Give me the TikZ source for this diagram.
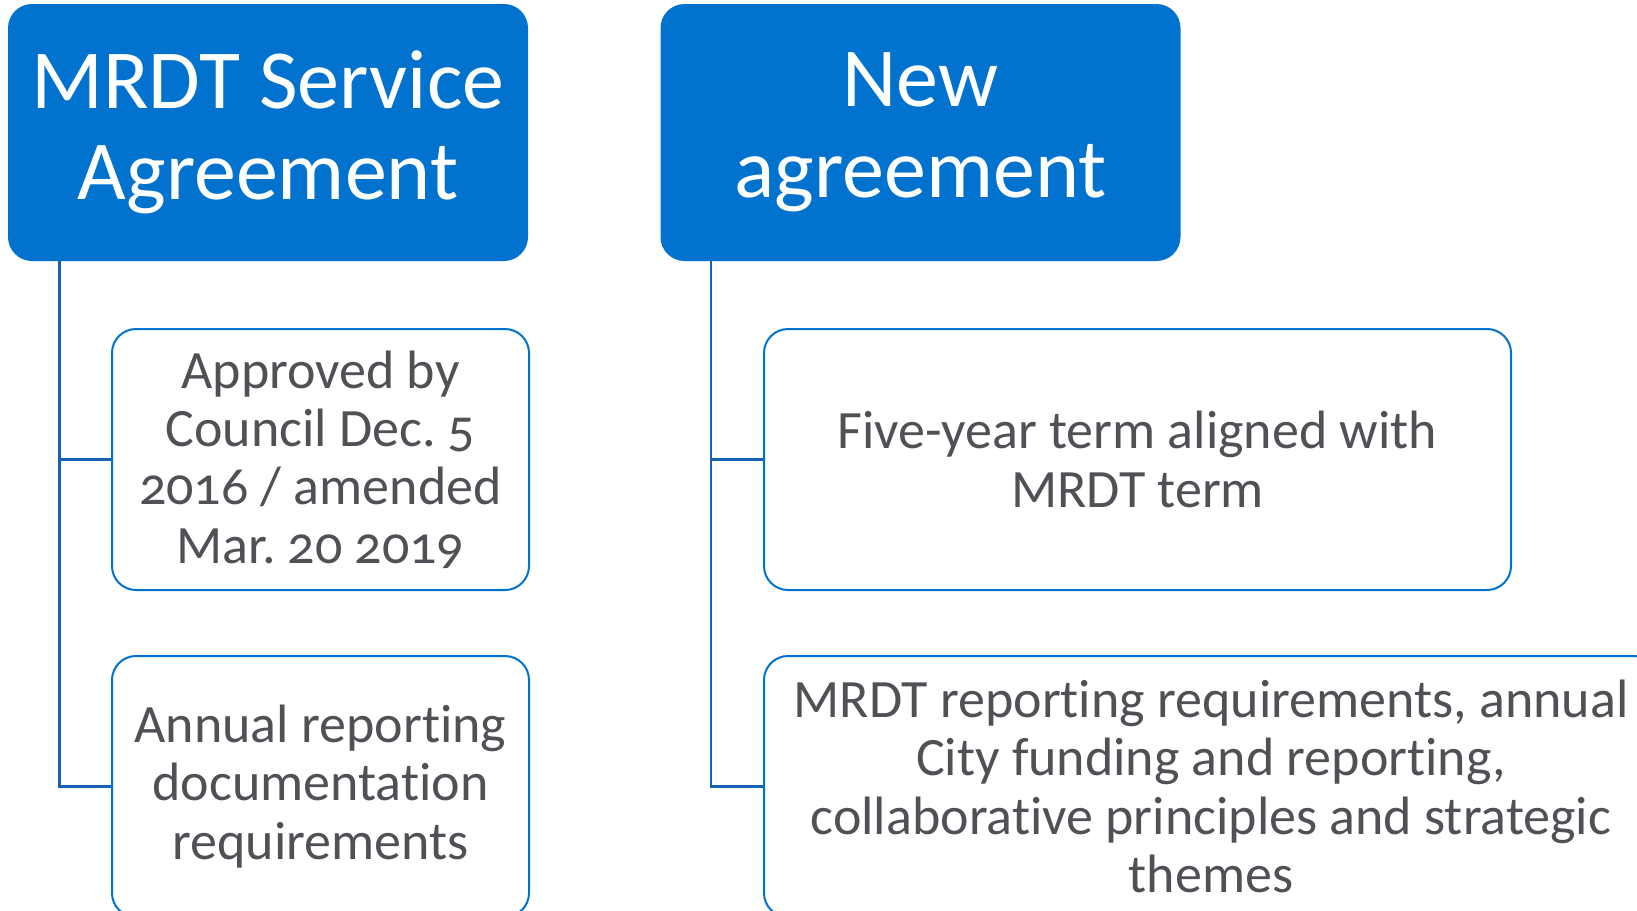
\documentclass[tikz,border=0pt]{standalone}
\usepackage{fontspec}
\setmainfont{Carlito}[Numbers=OldStyle, Ligatures=NoCommon]
\usepackage{xcolor}
\usetikzlibrary{positioning,calc}
\definecolor{boxblue}{RGB}{1,115,207}
\definecolor{linkblue}{RGB}{20,98,180}
\definecolor{textgrey}{RGB}{80,80,86}
\frenchspacing

\begin{document}
\begin{tikzpicture}[x=0.5pt,y=-0.5pt,
    head/.style={rectangle, rounded corners=12pt, fill=boxblue, text=white, align=center,
      minimum width=260pt, minimum height=128.5pt, font=\fontsize{42}{45.5}\selectfont},
    item/.style={rectangle, rounded corners=12pt, draw=boxblue, line width=1pt, fill=white,
      text=textgrey, align=center, minimum height=130.5pt, font=\fontsize{27}{29.2}\selectfont},
    link/.style={draw=linkblue, line width=1.2pt}]
  \useasboundingbox (0,0) rectangle (1637,910);
  \clip (0,0) rectangle (1637,910);

  % old agreement
  \node[head] (mrdt) at (268,132.5) {MRDT Service\\Agreement};
  \coordinate (lroot) at ($(mrdt.south west)+(26pt,0)$);
  \node[item, minimum width=208.5pt] (approved) at (320.5,459.5) {Approved by\\Council Dec. 5\\2016 / amended\\Mar. 20 2019};
  \node[item, minimum width=208.5pt] (annual) at (320.5,786.5) {Annual reporting\\documentation\\requirements};
  \draw[link] (lroot) |- (approved.west);
  \draw[link] (lroot) |- (annual.west);

  % new agreement
  \node[head] (new) at (920.5,132.5) {New\\agreement};
  \coordinate (rroot) at ($(new.south west)+(25.5pt,0)$);
  \node[item, minimum width=373.5pt] (term) at (1137.5,459.5) {Five-year term aligned with\\MRDT term};
  \node[item, minimum width=447pt] (themes) at (1211,786.5) {MRDT reporting requirements, annual\\City funding and reporting,\\collaborative principles and strategic\\themes};
  \draw[link] (rroot) |- (term.west);
  \draw[link] (rroot) |- (themes.west);
\end{tikzpicture}
\end{document}
